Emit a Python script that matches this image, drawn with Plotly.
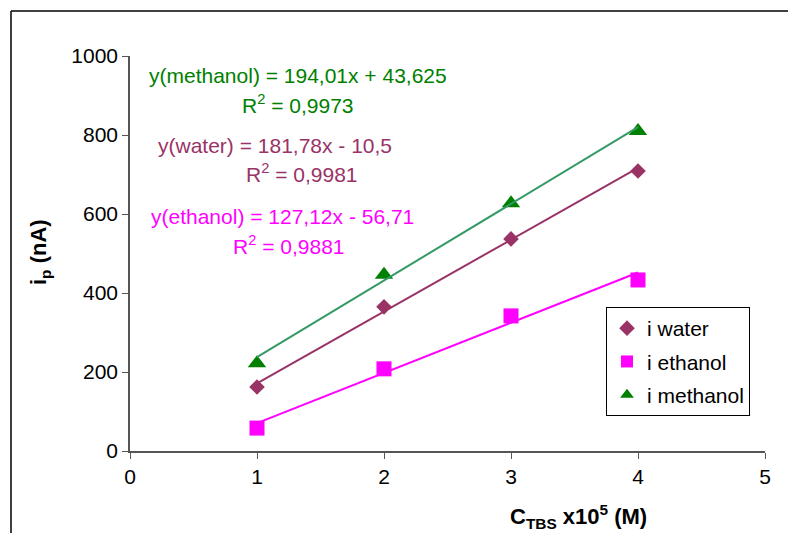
import plotly.graph_objects as go

x_vals = [1, 2, 3, 4]
water = [162, 365, 537, 709]
ethanol = [58, 208, 342, 433]
methanol = [222, 446, 627, 810]

fits = {
    "water": (181.78, -10.5),
    "ethanol": (127.12, -56.71),
    "methanol": (194.01, 43.625),
}

x_ticks = [0, 1, 2, 3, 4, 5]
y_ticks = [0, 200, 400, 600, 800, 1000]

FONT = "Liberation Sans, Arial, sans-serif"
c_water, c_eth, c_meth = "#993366", "#FF00FF", "#008000"
l_meth = "#339966"

fig = go.Figure()

fig.add_trace(go.Scatter(x=x_vals, y=water, mode="markers", name="i water", legendgroup="a",
                         marker=dict(symbol="diamond", size=12, color=c_water)))
fig.add_trace(go.Scatter(x=x_vals, y=ethanol, mode="markers", name="i ethanol", legendgroup="b",
                         marker=dict(symbol="square", size=15, color=c_eth)))
fig.add_trace(go.Scatter(x=x_vals, y=methanol, mode="markers", name="i methanol", legendgroup="c",
                         marker=dict(symbol="triangle-up", size=16, color=c_meth)))

for name, col in [("water", c_water), ("ethanol", c_eth), ("methanol", l_meth)]:
    m, b = fits[name]
    fig.add_trace(go.Scatter(x=[x_vals[0], x_vals[-1]], y=[m * x_vals[0] + b, m * x_vals[-1] + b],
                             mode="lines", line=dict(color=col, width=2), showlegend=False,
                             hoverinfo="skip"))


def px(xp):
    return (xp - 130) / 635


def py(yp):
    return (451 - yp) / 395


def ann(text, x, y, color, size=21, angle=0):
    fig.add_annotation(text=text, x=px(x), y=py(y), xref="paper", yref="paper", showarrow=False,
                       font=dict(family=FONT, size=size, color=color), xanchor="center",
                       yanchor="middle", textangle=angle)


ann("y(methanol) = 194,01x + 43,625", 298, 75, c_meth)
ann("R<sup>2</sup> = 0,9973", 298, 104, c_meth)
ann("y(water) = 181,78x - 10,5", 275, 145, c_water)
ann("R<sup>2</sup> = 0,9981", 302, 173, c_water)
ann("y(ethanol) = 127,12x - 56,71", 282, 216, c_eth)
ann("R<sup>2</sup> = 0,9881", 289, 245, c_eth)

ann("<b>C<sub>TBS</sub> x10<sup>5</sup> (M)</b>", 578, 516, "black", size=22)
ann("<b>i<sub>p</sub> (nA)</b>", 40, 252, "black", size=22, angle=-90)

fig.add_shape(type="line", xref="paper", yref="paper", x0=px(11), x1=px(11), y0=py(11), y1=py(540),
              line=dict(color="black", width=1.5))
fig.add_shape(type="line", xref="paper", yref="paper", x0=px(11), x1=px(800), y0=py(11), y1=py(11),
              line=dict(color="black", width=1.5))

fig.update_layout(
    width=788, height=533,
    margin=dict(l=130, r=23, t=56, b=82),
    paper_bgcolor="white", plot_bgcolor="white",
    font=dict(family=FONT, size=21, color="black"),
    xaxis=dict(range=[0, 5], tickvals=x_ticks, showgrid=False, zeroline=False,
               showline=True, linecolor="#555555", linewidth=1.5, ticks="outside", ticklen=6,
               tickcolor="#555555", tickfont=dict(size=21)),
    yaxis=dict(range=[0, 1000], tickvals=y_ticks, showgrid=False, zeroline=False,
               showline=True, linecolor="#555555", linewidth=1.5, ticks="outside", ticklen=6,
               tickcolor="#555555", tickfont=dict(size=21)),
    legend=dict(x=px(606), y=py(307), xanchor="left", yanchor="top", bgcolor="white",
                bordercolor="black", borderwidth=1, font=dict(size=21), itemsizing="constant",
                itemwidth=30, traceorder="grouped", tracegroupgap=3),
    showlegend=True,
)

fig.write_html("out.html")
